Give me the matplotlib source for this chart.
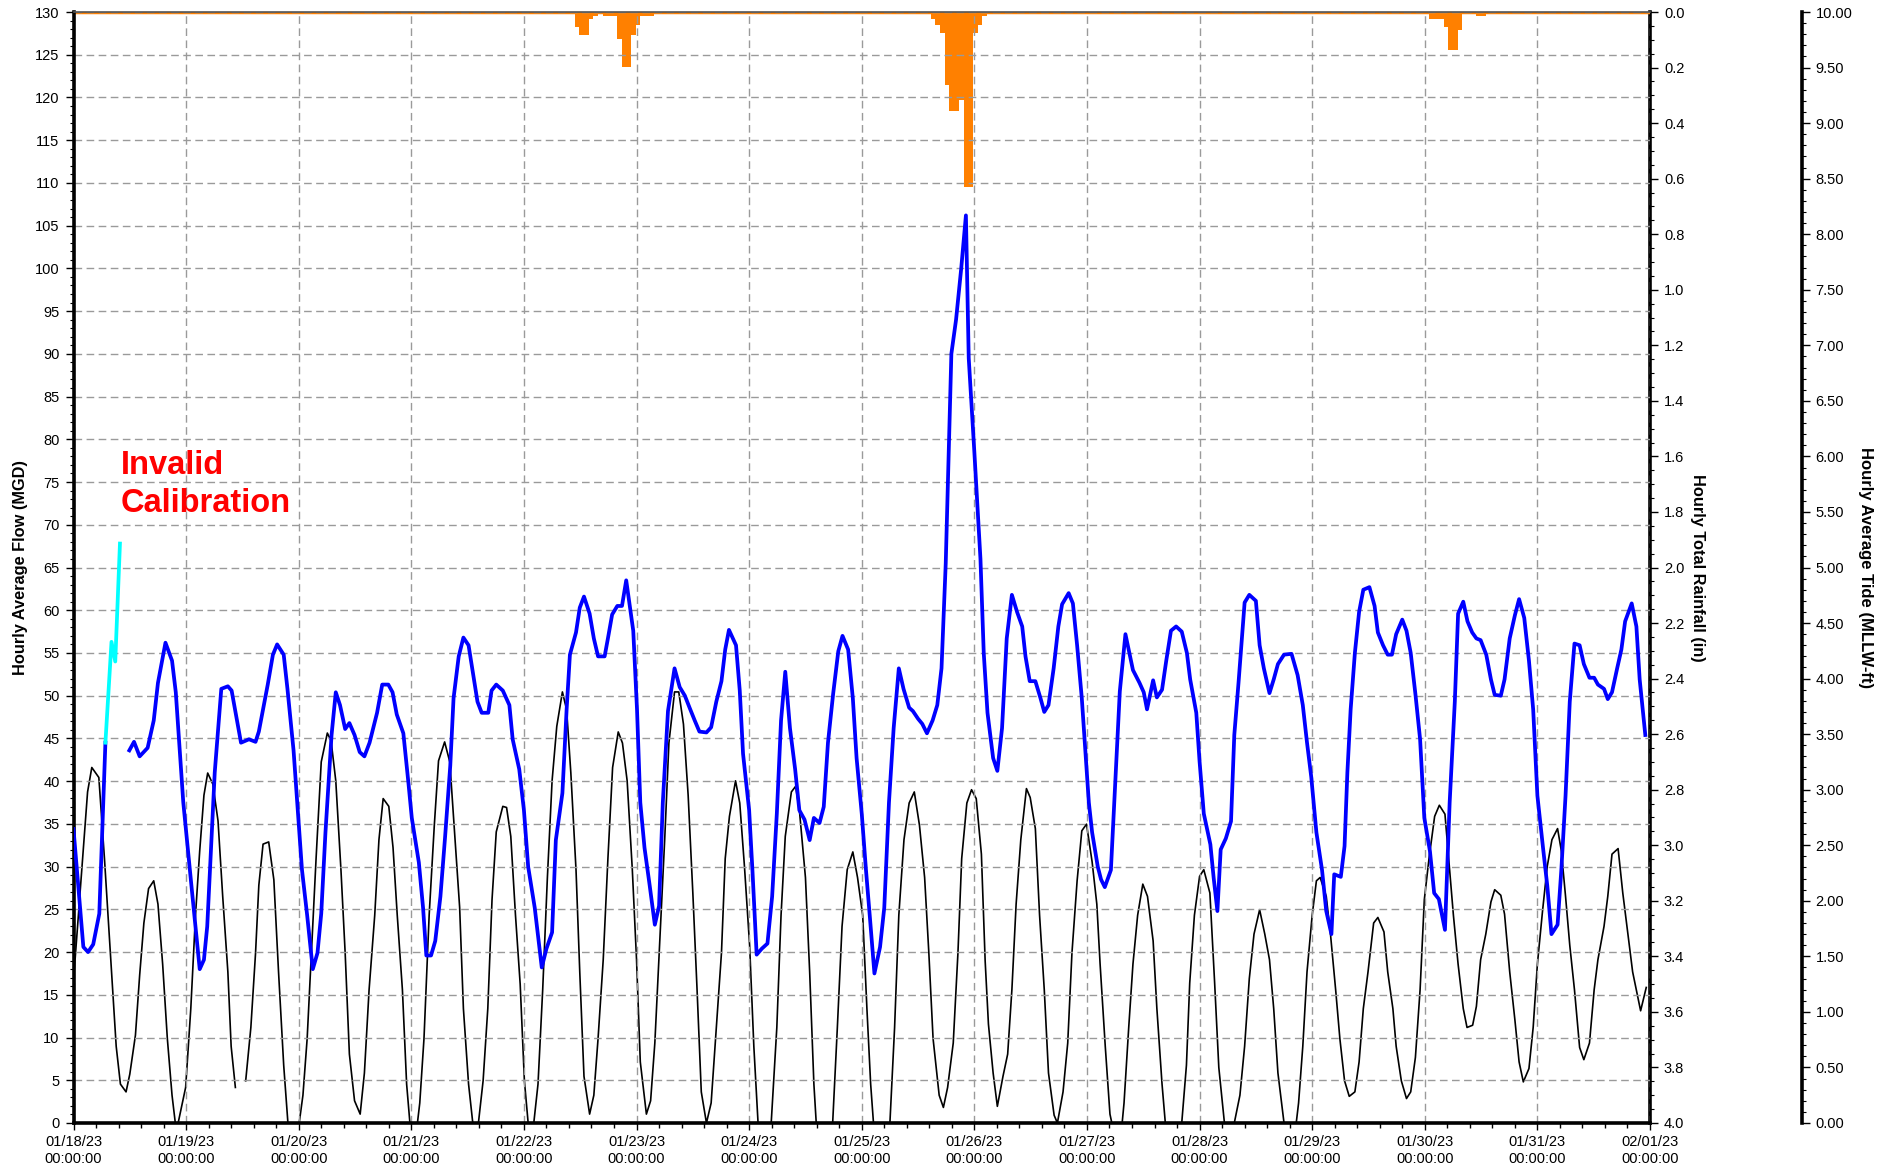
import matplotlib
matplotlib.use("Agg")
import matplotlib.pyplot as plt
import matplotlib.dates as mdates
from matplotlib.ticker import MultipleLocator, FormatStrFormatter
import numpy as np
from datetime import datetime

plt.rcParams['font.family'] = ['Liberation Sans', 'DejaVu Sans']

# ---------------- data (hours after 01/18/23 00:00) ----------------
flow_hours = [0, 2.1, 3.1, 4.2, 5.5, 6.8, 9.5,
              11.9, 12.9, 14.1, 15.8, 17.1, 18.0, 19.6, 21.0, 21.8, 23.4, 25.2, 26.9, 27.8, 28.5,
              30.1, 31.5, 32.9, 33.7, 35.7, 37.4, 38.8, 39.5, 41.4, 42.5, 43.4, 44.8, 45.6, 46.9,
              48.7, 49.8, 51.0, 52.0, 52.8, 53.7, 55.0, 55.9, 56.8, 57.9, 58.8, 59.9, 61.0, 62.0,
              63.1, 64.7, 65.8, 67.1, 68.0, 68.9, 70.3, 71.4, 72.1, 73.6, 74.5, 75.2, 76.2, 77.1,
              78.2, 79.2, 80.3, 81.0, 82.1, 83.1, 84.2, 85.2, 86.1, 87.0, 88.4, 89.1, 90.1, 91.5,
              92.9, 93.6, 95.0, 96.0, 96.9, 98.3, 99.8, 100.8, 102.0, 102.8, 104.2, 105.1, 105.8,
              107.1, 107.9, 108.8, 110.0, 110.9, 111.8, 113.2, 113.9, 114.8, 115.9, 116.9, 117.8,
              119.3, 120.1, 120.8, 121.7, 122.8, 123.9, 124.8, 125.6, 126.7, 128.1, 129.2, 130.3,
              131.3, 132.4, 133.4, 134.9, 135.9, 137.0, 138.1, 138.9, 139.7, 141.2, 142.0, 142.7,
              144.0, 144.7, 145.6, 146.7, 147.9, 148.9, 149.9, 150.8, 151.7, 152.7, 153.8, 154.7,
              155.8, 156.9, 157.8, 159.0, 159.9, 160.8, 161.9, 163.0, 163.9, 165.1, 166.1, 166.9,
              168.0, 168.9, 169.7, 170.7, 171.9, 172.8, 173.8, 174.8, 175.9, 176.9, 178.1, 178.9,
              180.0, 180.9, 181.9, 183.1, 184.1, 185.0, 185.9, 187.1, 188.1, 189.2, 190.2, 190.8,
              192.0, 193.3, 194.0, 194.8, 196.0, 196.9, 197.9, 198.9, 200.0, 201.1, 202.2, 202.9,
              203.8, 205.0, 206.1, 206.9, 207.8, 208.9, 209.9, 210.7, 212.1, 213.0, 213.9, 214.9,
              215.7, 216.4, 217.1, 218.3, 219.0, 219.8, 221.1, 223.0, 224.2, 225.8, 227.2, 228.1,
              228.8, 230.1, 230.9, 232.0, 232.9, 233.9, 235.0, 236.2, 237.3, 238.0, 239.3, 240.0,
              240.9, 242.3, 243.0, 243.8, 244.5, 245.6, 246.7, 247.4, 248.3, 249.6, 250.6, 252.0,
              252.8, 253.7, 254.9, 255.8, 256.7, 258.0, 259.6, 260.9, 262.0, 262.9, 263.8, 264.9,
              266.1, 267.0, 268.1, 268.7, 270.1, 270.9, 271.5, 272.2, 273.1, 274.0, 274.9, 276.2,
              277.3, 278.0, 279.1, 280.1, 281.0, 281.9, 283.2, 284.1, 285.0, 286.0, 287.0, 287.9,
              289.1, 290.0, 291.0, 292.3, 293.3, 294.4, 295.1, 296.2, 297.1, 298.1, 299.0, 299.9,
              301.1, 302.1, 302.9, 304.2, 305.0, 306.1, 307.2, 308.1, 309.2, 310.2, 311.1, 312.0,
              313.2, 314.1, 315.0, 316.3, 317.1, 318.0, 318.9, 319.9, 321.0, 321.9, 323.1, 324.1,
              324.9, 326.2, 327.0, 327.9, 329.0, 329.9, 330.7, 332.1, 333.1, 333.8, 335.0]
flow_mgd = [34.4, 20.6, 20.0, 20.9, 24.5, 44.5, np.nan,
            43.6, 44.6, 42.9, 43.9, 47.1, 51.5, 56.2, 54.1, 50.4, 37.5, 27.4, 18.0, 19.1, 23.0,
            41.0, 50.8, 51.1, 50.6, 44.5, 44.9, 44.6, 45.8, 51.3, 54.8, 56.0, 54.8, 50.8, 43.6,
            29.6, 24.3, 18.0, 19.9, 24.5, 34.0, 45.4, 50.4, 48.9, 46.1, 46.8, 45.4, 43.4, 42.9,
            44.5, 48.0, 51.3, 51.3, 50.4, 47.8, 45.6, 39.7, 35.7, 30.5, 25.2, 19.6, 19.6, 21.3,
            26.5, 33.5, 41.8, 49.7, 54.6, 56.8, 55.9, 52.4, 49.3, 48.0, 48.0, 50.6, 51.3, 50.6,
            48.9, 44.9, 41.4, 36.6, 30.0, 25.2, 18.2, 20.4, 22.3, 33.1, 38.6, 48.4, 54.8,
            57.4, 60.3, 61.6, 59.6, 56.7, 54.6, 54.6, 56.7, 59.5, 60.5, 60.5, 63.5,
            57.6, 48.4, 37.5, 32.2, 27.8, 23.2, 25.4, 37.5, 48.2, 53.2, 51.0, 50.0,
            48.6, 47.1, 45.8, 45.7, 46.3, 49.3, 51.7, 55.4, 57.7, 55.9, 50.6, 43.2,
            36.6, 29.6, 19.7, 20.4, 21.0, 26.5, 36.2, 47.1, 52.8, 46.2, 41.4, 36.6,
            35.5, 33.1, 35.7, 35.1, 37.0, 44.5, 50.2, 55.2, 57.0, 55.4, 49.7, 42.7,
            36.2, 29.6, 24.3, 17.5, 20.6, 25.2, 37.5, 46.2, 53.2, 50.8, 48.6, 48.2,
            47.3, 46.7, 45.6, 47.1, 48.9, 53.2, 65.5, 90.0, 94.0, 100.0, 106.2, 89.5,
            78.5, 66.0, 55.0, 48.0, 42.7, 41.2, 46.2, 56.7, 61.8, 59.8, 58.1, 54.6,
            51.7, 51.7, 49.7, 48.1, 48.9, 53.2, 58.1, 60.7, 62.0, 60.8, 55.9, 49.7,
            43.2, 37.5, 34.0, 30.0, 28.5, 27.6, 29.6, 50.5, 57.2, 53.0, 51.5, 50.4,
            48.4, 51.8, 49.8, 50.7, 54.1, 57.6, 58.1, 57.5, 55.0, 51.9, 48.0, 42.3,
            36.2, 32.6, 28.7, 24.8, 32.0, 33.3, 35.3, 45.4, 51.5, 60.9, 61.8, 61.1,
            55.9, 53.2, 50.3, 51.9, 53.7, 54.8, 54.9, 52.4, 48.9, 44.5, 40.5, 34.0,
            29.6, 24.8, 22.1, 29.1, 28.8, 32.4, 41.0, 48.4, 55.0, 59.8, 62.4, 62.7,
            60.5, 57.4, 55.9, 54.8, 54.8, 57.2, 58.9, 57.6, 55.0, 50.2, 44.9, 35.7,
            31.8, 26.9, 26.2, 22.6, 37.5, 49.3, 59.6, 61.0, 58.7, 57.4, 56.7, 56.5,
            54.8, 51.9, 50.1, 50.0, 51.9, 56.7, 59.4, 61.3, 59.1, 54.1, 48.4, 38.3,
            32.2, 27.8, 22.1, 23.2, 29.6, 38.3, 49.3, 56.1, 55.9, 53.7, 52.1, 52.1,
            51.3, 50.8, 49.6, 50.4, 53.2, 55.4, 58.7, 60.8, 58.1, 51.9, 45.4]

invalid_hours = [6.8, 8.1, 8.9, 9.9]
invalid_mgd = [44.5, 56.3, 54.0, 67.8]

tide_hours = [0, 3.0, 3.9, 5.4, 6.6, 8.0, 9.1, 10.0, 11.2, 12.0, 13.2, 14.1, 15.0, 16.0, 17.1,
              18.0, 19.0, 20.0, 21.0, 21.7, 22.3, 23.9, 25.0, 26.0, 26.9, 27.8, 28.6, 29.7, 30.8,
              31.8, 32.9, 33.6, 34.5, 35.5, 36.7, 37.8, 38.8, 39.5, 40.4, 41.6, 42.7, 43.7, 44.8,
              45.7, 48.1, 48.9, 49.8, 50.7, 51.7, 52.8, 54.1, 54.9, 55.9, 57.0, 57.9, 58.8, 59.9,
              61.1, 62.0, 63.0, 64.2, 65.1, 66.0, 67.2, 68.1, 69.0, 70.1, 71.0, 71.7, 73.3, 73.8,
              74.7, 75.8, 76.9, 77.8, 79.1, 80.2, 81.2, 82.3, 83.1, 84.2, 85.1, 86.3, 87.3, 88.3,
              89.2, 90.1, 91.5, 92.3, 93.2, 94.2, 95.2, 96.1, 96.9, 98.1, 99.0, 100.0, 101.0,
              102.0, 103.0, 104.2, 105.1, 106.0, 107.1, 107.9, 108.8, 110.0, 110.9, 111.8, 112.9,
              113.9, 114.9, 116.1, 117.0, 118.0, 119.1, 120.0, 120.8, 122.1, 123.0, 123.9, 124.9,
              126.0, 126.9, 128.1, 129.0, 130.0, 131.0, 132.0, 132.9, 133.8, 134.9, 135.9, 137.0,
              138.1, 138.9, 139.8, 141.1, 142.0, 143.0, 144.1, 145.0, 145.9, 148.7, 149.9, 150.8,
              151.7, 153.0, 153.9, 154.7, 156.0, 156.9, 157.8, 158.3, 161.8, 162.8, 163.8, 164.9,
              166.1, 167.1, 168.2, 169.1, 169.9, 170.5, 174.0, 175.0, 175.9, 177.0, 178.1, 179.2,
              180.3, 181.4, 182.3, 183.2, 184.5, 185.4, 186.3, 187.5, 188.5, 189.3, 190.4, 191.4,
              192.4, 193.5, 194.3, 195.0, 196.0, 196.9, 198.1, 199.1, 200.0, 200.9, 201.9, 203.1,
              203.9, 205.0, 205.9, 206.9, 207.8, 209.0, 209.7, 210.9, 211.9, 212.8, 213.9, 214.9,
              215.9, 217.1, 218.1, 218.8, 219.9, 220.9, 221.3, 223.5, 223.9, 224.9, 225.8, 226.8,
              227.9, 228.9, 230.1, 230.9, 232.0, 232.7, 236.2, 237.2, 237.9, 238.9, 240.0, 240.9,
              242.2, 243.2, 244.1, 245.3, 247.4, 248.6, 249.6, 250.6, 251.6, 252.8, 253.9, 254.9,
              255.8, 256.7, 258.0, 260.6, 261.1, 262.0, 262.9, 264.0, 264.9, 265.7, 267.0, 267.9,
              269.0, 269.9, 270.9, 271.9, 273.1, 274.0, 274.9, 275.9, 277.1, 278.0, 279.3, 280.1,
              281.2, 281.9, 283.0, 284.1, 285.0, 286.0, 287.0, 287.9, 288.9, 290.1, 291.1, 292.3,
              293.1, 294.1, 295.1, 296.2, 297.0, 298.2, 299.0, 299.9, 301.0, 302.1, 302.9, 304.2,
              305.0, 306.1, 307.2, 308.1, 309.0, 310.2, 311.1, 312.0, 313.1, 314.1, 315.1, 316.3,
              317.1, 318.0, 318.9, 319.9, 321.0, 321.9, 323.1, 324.1, 324.9, 326.2, 327.0, 327.9,
              329.2, 330.2, 331.3, 332.3, 334.0, 335.2]
tide_ft = [1.28, 2.98, 3.20, 3.11, 2.38, 1.43, 0.69, 0.35, 0.28, 0.44, 0.79, 1.33, 1.80, 2.11, 2.18,
           1.97, 1.43, 0.76, 0.25, 0.0, 0.0, 0.32, 1.03, 1.87, 2.45, 2.95, 3.15, 3.05, 2.72,
           2.04, 1.36, 0.69, 0.32, np.nan, 0.38, 0.86, 1.53, 2.14, 2.51, 2.53, 2.19, 1.36, 0.52,
           0.0, 0.0, 0.25, 0.76, 1.53, 2.38, 3.25, 3.51, 3.44, 3.08, 2.28, 1.53, 0.62, 0.20,
           0.08, 0.45, 1.20, 1.87, 2.55, 2.92, 2.85, 2.48, 1.87, 1.20, 0.35, 0.0, 0.0, 0.18,
           0.76, 1.87, 2.68, 3.26, 3.43, 3.25, 2.62, 1.94, 1.03, 0.35, 0.0, 0.0, 0.38, 1.03,
           2.01, 2.62, 2.85, 2.84, 2.58, 1.87, 1.25, 0.38, 0.0, 0.0, 0.35, 1.20, 2.21,
           3.08, 3.57, 3.88, 3.72, 3.15, 2.28, 1.36, 0.42, 0.08, 0.25, 0.76, 1.47,
           2.38, 3.20, 3.52, 3.42, 3.08, 2.28, 1.47, 0.55, 0.08, 0.20, 0.72, 1.60,
           2.55, 3.42, 3.88, 3.88, 3.59, 2.95, 2.07, 1.20, 0.28, 0.0, 0.18, 0.86,
           1.53, 2.38, 2.76, 3.08, 2.88, 2.31, 1.60, 0.69, 0.0, 0.0, 0.86, 1.87,
           2.58, 2.98, 3.03, 2.82, 2.21, 1.36, 0.35, 0.0, 0.0, 0.86, 1.77, 2.28,
           2.44, 2.21, 1.87, 1.03, 0.35, 0.0, 0.0, 0.86, 1.87, 2.55, 2.88, 2.98,
           2.68, 2.21, 1.53, 0.76, 0.25, 0.14, 0.32, 0.72, 1.53, 2.38, 2.88, 3.00,
           2.92, 2.42, 1.46, 0.89, 0.45, 0.15, 0.42, 0.62, 1.20, 1.97, 2.55, 3.01,
           2.93, 2.65, 1.87, 1.20, 0.45, 0.07, 0.0, 0.28, 0.72, 1.53, 2.18, 2.63,
           2.69, 2.35, 1.97, 1.43, 0.69, 0.08, 0.0, 0.0, 0.18, 0.86, 1.43, 1.87,
           2.15, 2.04, 1.64, 1.03, 0.35, 0.0, 0.0, 0.52, 1.26, 1.87, 2.22, 2.28,
           2.07, 1.27, 0.50, 0.0, 0.0, 0.25, 0.69, 1.30, 1.70, 1.92, 1.70, 1.47,
           1.03, 0.45, 0.0, 0.0, 0.18, 0.69, 1.36, 1.87, 2.18, 2.21, 2.04, 1.70,
           1.20, 0.76, 0.38, 0.24, 0.28, 0.55, 1.03, 1.36, 1.80, 1.85, 1.72, 1.36,
           1.03, 0.69, 0.38, 0.22, 0.28, 0.59, 1.20, 2.01, 2.38, 2.76, 2.86, 2.78,
           2.38, 1.87, 1.43, 1.03, 0.86, 0.88, 1.05, 1.47, 1.70, 1.99, 2.10, 2.05,
           1.88, 1.36, 0.93, 0.55, 0.37, 0.49, 0.86, 1.43, 1.91, 2.31, 2.55, 2.65,
           2.45, 2.04, 1.60, 1.20, 0.68, 0.57, 0.72, 1.20, 1.47, 1.77, 2.04, 2.42,
           2.47, 2.07, 1.70, 1.36, 1.01, 1.22]

rain_hours = [106.8, 107.8, 108.8, 109.8, 110.8, 112.8, 113.8, 114.8, 115.8, 116.8, 117.8,
              118.8, 119.8, 120.8, 121.8, 122.8,
              182.7, 183.7, 184.7, 185.7, 186.7, 187.7, 188.7, 189.7, 190.7, 191.7, 192.7, 193.7,
              289.0, 290.0, 291.0, 292.0, 293.0, 294.0, 295.0, 299.0, 300.0]
rain_in = [0.053, 0.082, 0.082, 0.024, 0.013, 0.013, 0.013, 0.013, 0.097, 0.197, 0.197,
           0.082, 0.046, 0.013, 0.013, 0.013,
           0.024, 0.046, 0.074, 0.263, 0.355, 0.355, 0.316, 0.629, 0.629, 0.074, 0.046, 0.013,
           0.024, 0.024, 0.024, 0.053, 0.137, 0.137, 0.065, 0.013, 0.013]

# ---------------- figure ----------------
W, H = 1900, 1170
fig = plt.figure(figsize=(W / 100, H / 100), dpi=100)
L, R, T, B = 73.5, 1650, 12, 1123
ax = fig.add_axes([L / W, 1 - B / H, (R - L) / W, (B - T) / H])
ax_rain = ax.twinx()
ax_tide = ax.twinx()
ax_tide.spines['right'].set_position(('axes', (1801.7 - L) / (R - L)))

ax.set_zorder(3)
ax.patch.set_visible(False)
ax_rain.set_zorder(1)
ax_tide.set_zorder(2)

base = mdates.date2num(datetime(2023, 1, 18))
hrs = lambda h: base + np.asarray(h, dtype=float) / 24.0

# rain bars (inverted axis)
ax_rain.bar(hrs(rain_hours), rain_in, width=1 / 24, align='edge', color='#FF8000',
            linewidth=0, zorder=2)
ax_rain.axhline(0, color='#FF8000', lw=3.2, zorder=3)
ax_rain.set_ylim(4.0, 0.0)

# tide
ax_tide.plot(hrs(tide_hours), tide_ft, color='black', lw=1.2, zorder=3)
ax_tide.set_ylim(0, 10)

# flow
ax.plot(hrs(flow_hours), flow_mgd, color='#0000FF', lw=2.7, zorder=4)
ax.plot(hrs(invalid_hours), invalid_mgd, color='#00FFFF', lw=2.7, zorder=5)
ax.set_ylim(0, 130)
ax.set_xlim(base, base + 14)

# grid
ax.grid(True, which='major', axis='both', color='#9a9a9a', linestyle=(0, (5.5, 3.2)), lw=1.0,
        zorder=0)
ax.set_axisbelow(True)

# x ticks
ax.xaxis.set_major_locator(mdates.DayLocator())
ax.xaxis.set_major_formatter(mdates.DateFormatter('%m/%d/%y\n%H:%M:%S'))
ax.xaxis.set_minor_locator(MultipleLocator(0.2))
ax.tick_params(axis='x', which='major', direction='out', length=5, width=1, labelsize=10.5, pad=4)
ax.tick_params(axis='x', which='minor', direction='out', length=3.5, width=1)

# left y
ax.yaxis.set_major_locator(MultipleLocator(5))
ax.yaxis.set_minor_locator(MultipleLocator(1))
ax.tick_params(axis='y', which='major', direction='out', length=6, width=1, labelsize=10.5, pad=4)
ax.tick_params(axis='y', which='minor', direction='out', length=3, width=0.8)

# rain y
ax_rain.yaxis.set_major_locator(MultipleLocator(0.2))
ax_rain.yaxis.set_minor_locator(MultipleLocator(0.05))
ax_rain.yaxis.set_major_formatter(FormatStrFormatter('%.1f'))
ax_rain.tick_params(axis='y', which='major', direction='out', length=6, width=1, labelsize=10.5, pad=4)
ax_rain.tick_params(axis='y', which='minor', direction='out', length=3, width=0.8)

# tide y
ax_tide.yaxis.set_major_locator(MultipleLocator(0.5))
ax_tide.yaxis.set_minor_locator(MultipleLocator(0.1))
ax_tide.yaxis.set_major_formatter(FormatStrFormatter('%.2f'))
ax_tide.tick_params(axis='y', which='major', direction='out', length=6, width=1, labelsize=10.5, pad=4)
ax_tide.tick_params(axis='y', which='minor', direction='out', length=3, width=0.8)

# spines
for a in (ax, ax_rain, ax_tide):
    for s in a.spines.values():
        s.set_visible(False)
ax.spines['left'].set_visible(True)
ax.spines['left'].set_linewidth(2.6)
ax.spines['bottom'].set_visible(True)
ax.spines['bottom'].set_linewidth(2.6)
ax.spines['top'].set_visible(True)
ax.spines['top'].set_linewidth(1.2)
ax.spines['top'].set_color('#555555')
ax_rain.spines['right'].set_visible(True)
ax_rain.spines['right'].set_linewidth(2.6)
ax_tide.spines['right'].set_visible(True)
ax_tide.spines['right'].set_linewidth(2.6)

# axis labels
yc = 1 - (T + B) / 2 / H
fig.text(20.6 / W, yc, 'Hourly Average Flow (MGD)', rotation=90, ha='center', va='center',
         fontsize=11.8, fontweight='bold')
fig.text(1697 / W, yc, 'Hourly Total Rainfall (in)', rotation=270, ha='center', va='center',
         fontsize=11.8, fontweight='bold')
fig.text(1866 / W, yc, 'Hourly Average Tide (MLLW-ft)', rotation=270, ha='center', va='center',
         fontsize=12.0, fontweight='bold')

fig.text(121 / W, 1 - 450 / H, 'Invalid\nCalibration', color='#FF0000', fontsize=23.5,
         fontweight='bold', ha='left', va='top', linespacing=1.3)

fig.savefig('out.png', dpi=100, facecolor='white')
